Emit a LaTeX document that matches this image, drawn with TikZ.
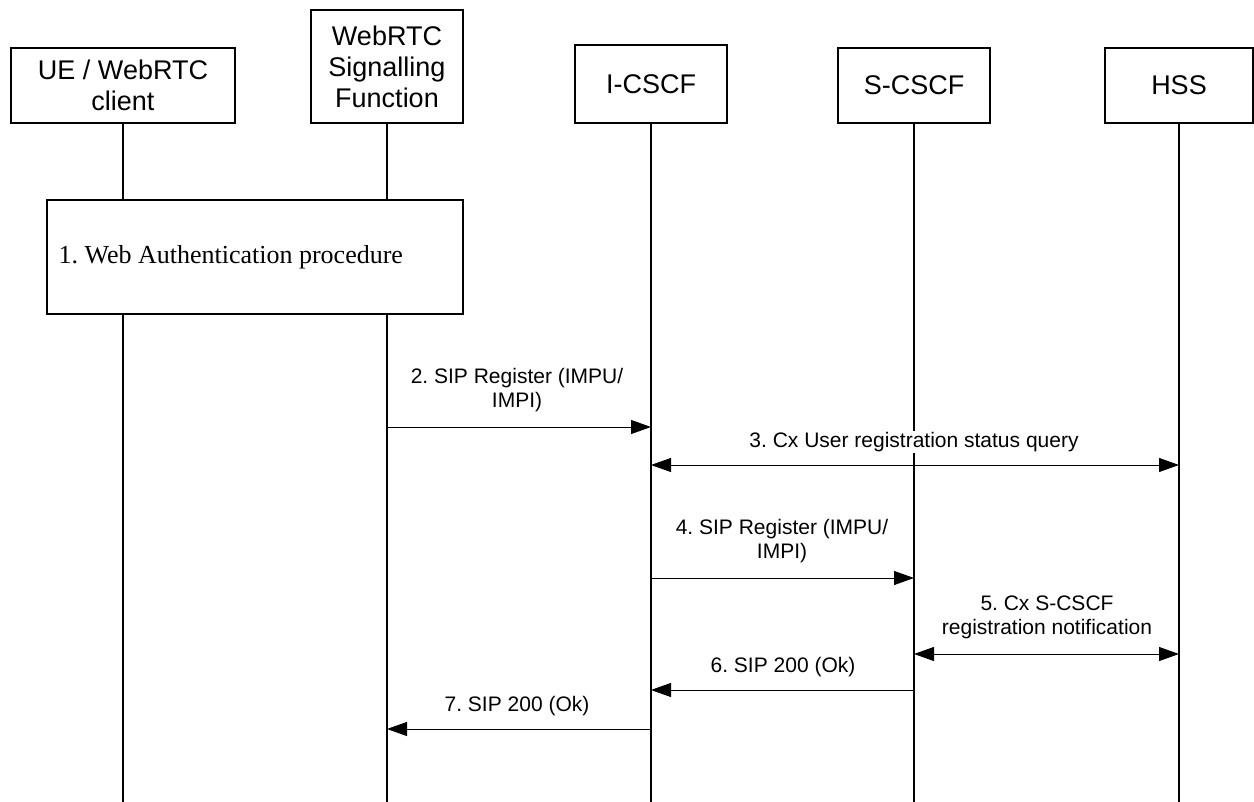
\documentclass[tikz,border=0pt]{standalone}
\usepackage{fontspec}
\setmainfont{Liberation Sans}
\newfontfamily\procfont{Liberation Serif}
\usetikzlibrary{arrows.meta}
\frenchspacing

\begin{document}
\begin{tikzpicture}[x=1pt,y=-1pt,
  entity/.style={draw, line width=1.3pt, fill=white, align=center,
    font=\fontsize{27}{31}\selectfont, inner sep=0pt},
  life/.style={line width=1.3pt},
  msg/.style={line width=0.9pt, -{Triangle[length=20pt,width=14pt]}},
  bimsg/.style={line width=0.9pt,
    {Triangle[length=20pt,width=14pt]}-{Triangle[length=20pt,width=14pt]}},
  lbl/.style={font=\fontsize{21}{24}\selectfont, align=center, inner sep=1pt},
]
\useasboundingbox (0,0) rectangle (1254,802);
\coordinate (bottom) at (0,802);

% entities
\node[entity, minimum width=224, minimum height=75] (ue) at (123,85.5) {UE / WebRTC\\client};
\node[entity, minimum width=152, minimum height=113] (sf) at (387,66.5) {WebRTC\\Signalling\\Function};
\node[entity, minimum width=152, minimum height=78] (ic) at (651,84) {I-CSCF};
\node[entity, minimum width=152, minimum height=75] (sc) at (914,85.5) {S-CSCF};
\node[entity, minimum width=148, minimum height=75] (hss) at (1179,85.5) {HSS};

% lifelines
\foreach \e in {ue,sf,ic,sc,hss}
  \draw[life] (\e.south) -- (\e.south |- bottom);

% step 1: procedure box spanning the client and the signalling function
\node[draw, line width=1.3pt, fill=white, minimum width=416, minimum height=114,
  inner sep=0pt] (auth) at (255,257) {};
\node[anchor=west, inner sep=0pt, font=\procfont\fontsize{26}{30}\selectfont]
  (authtxt) at ([xshift=12pt]auth.west) {1. Web Authentication procedure};

% messages
\draw[msg] (sf.south |- 0,427) -- (ic.south |- 0,427);
\node[lbl] (m2) at (517,390) {2. SIP Register (IMPU/\\IMPI)};

\draw[bimsg] (ic.south |- 0,465) -- (hss.south |- 0,465);
\node[lbl, fill=white] (m3) at (914,442) {3. Cx User registration status query};

\draw[msg] (ic.south |- 0,578) -- (sc.south |- 0,578);
\node[lbl] (m4) at (782,541) {4. SIP Register (IMPU/\\IMPI)};

\draw[bimsg] (sc.south |- 0,654) -- (hss.south |- 0,654);
\node[lbl] (m5) at (1047,617.5) {5. Cx S-CSCF\\registration notification};

\draw[msg] (sc.south |- 0,690) -- (ic.south |- 0,690);
\node[lbl] (m6) at (783,667) {6. SIP 200 (Ok)};

\draw[msg] (ic.south |- 0,729) -- (sf.south |- 0,729);
\node[lbl] (m7) at (517,706) {7. SIP 200 (Ok)};
\end{tikzpicture}
\end{document}
